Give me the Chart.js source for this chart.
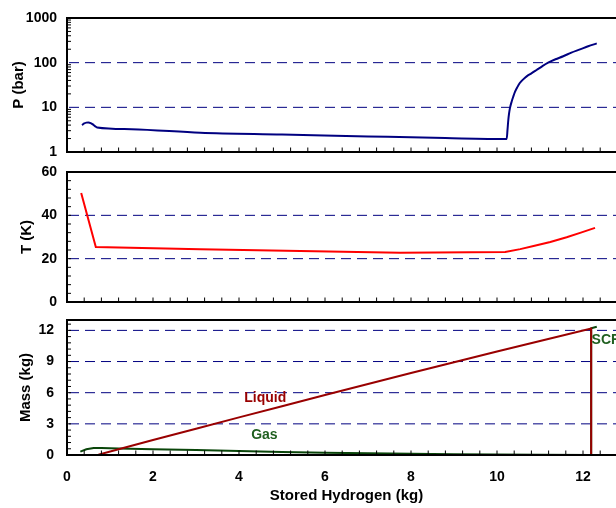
<!DOCTYPE html>
<html><head><meta charset="utf-8">
<script src="https://cdn.jsdelivr.net/npm/chart.js@4/dist/chart.umd.min.js"></script>
<style>
html,body{margin:0;padding:0;background:#fff;overflow:hidden;width:616px;height:508px;}
.panel{position:absolute;left:0;width:640px;}
</style></head><body>
<div class="panel" style="top:0;height:162px"><canvas id="c1"></canvas></div>
<div class="panel" style="top:160px;height:150px"><canvas id="c2"></canvas></div>
<div class="panel" style="top:300px;height:208px"><canvas id="c3"></canvas></div>
<script>
// ---- data ----
const storedTicks = [0, 2, 4, 6, 8, 10, 12];
const pTicks = [1, 10, 100, 1000];
const tTicks = [0, 20, 40, 60];
const massTicks = [0, 3, 6, 9, 12];

const pX = [0.35, 0.40, 0.45, 0.50, 0.55, 0.60, 0.65, 0.70, 1.5, 3.1, 5.0, 7.0, 8.8, 10.225, 10.245, 10.263, 10.28, 10.30, 10.34, 10.38, 10.42, 10.47, 10.53, 10.61, 10.69, 10.80, 10.92, 11.05, 11.19, 11.36, 11.54, 11.73, 11.93, 12.12, 12.32];
const pBar = [4.0, 4.35, 4.55, 4.6, 4.45, 4.15, 3.8, 3.55, 3.24, 2.69, 2.46, 2.23, 2.05, 1.95, 3.2, 5.2, 7.2, 9.5, 13.4, 17.6, 22.4, 28.0, 35.0, 42.3, 49.3, 57.5, 68.5, 83.0, 100, 119, 139, 168, 198, 233, 270];

const tX = [0.33, 0.67, 3.1, 7.75, 10.19, 10.54, 10.85, 11.24, 11.62, 11.95, 12.28];
const tK = [50.3, 25.4, 24.3, 22.7, 23.1, 24.4, 25.8, 27.7, 29.9, 32.0, 34.2];

const liquidX = [0.31, 0.73, 1.2, 2, 3, 4, 5, 6, 7, 8, 9, 10, 11, 12.19, 12.19, 12.32];
const liquidKg = [0, 0.03, 0.56, 1.45, 2.53, 3.62, 4.70, 5.78, 6.84, 7.89, 8.93, 9.96, 10.98, 12.18, 0, 0];

const gasX = [0.31, 0.45, 0.62, 0.8, 1.2, 2, 3, 4, 5, 6, 7, 8, 9, 10, 11, 12.19, 12.19, 12.32];
const gasKg = [0.32, 0.55, 0.68, 0.67, 0.63, 0.55, 0.47, 0.38, 0.30, 0.22, 0.16, 0.11, 0.07, 0.04, 0.02, 0.0, 12.2, 12.35];

const pts = (xs, ys) => xs.map((x, i) => ({x, y: ys[i]}));

// ---- decorations (minor tick positions, label placement) ----
const xMinor = []; for (let i = 0; i <= 32; i++) xMinor.push(i * 0.4);
const pMinor = []; [1, 10, 100].forEach(d => { for (let k = 2; k <= 9; k++) pMinor.push(d * k); });
const tMinor = []; for (let i = 0; i <= 15; i++) tMinor.push(i * 4);
const mMinor = []; for (let i = 0; i <= 21; i++) mMinor.push(+(i * 0.6).toFixed(1));

const FONT = "'Liberation Sans', Arial, Helvetica, sans-serif";

function deco(o) {
  return {
    id: 'deco',
    beforeDatasetsDraw(chart) {
      const {ctx, chartArea: a, scales: {y}} = chart;
      ctx.save();
      ctx.strokeStyle = '#000080';
      ctx.lineWidth = 1;
      ctx.setLineDash([10, 6]);
      o.dashed.forEach(v => {
        const py = y.getPixelForValue(v);
        ctx.beginPath(); ctx.moveTo(a.left + 2, py); ctx.lineTo(a.right, py); ctx.stroke();
      });
      ctx.restore();
    },
    afterDraw(chart) {
      const {ctx, chartArea: a, scales: {x, y}} = chart;
      ctx.save();
      ctx.strokeStyle = '#000';
      ctx.lineWidth = 1;
      ctx.beginPath();
      o.yMinor.forEach(v => { const py = y.getPixelForValue(v); ctx.moveTo(a.left, py); ctx.lineTo(a.left + 4, py); });
      xMinor.forEach(v => { const px = x.getPixelForValue(v); ctx.moveTo(px, a.bottom); ctx.lineTo(px, a.bottom - 4.5); });
      ctx.stroke();
      ctx.lineWidth = 2;
      ctx.strokeRect(a.left, a.top, a.right - a.left, a.bottom - a.top);
      (o.labels || []).forEach(l => {
        ctx.font = 'bold 14px ' + FONT;
        ctx.fillStyle = l.color;
        ctx.textAlign = l.align;
        ctx.textBaseline = 'middle';
        ctx.fillText(l.text, x.getPixelForValue(l.x), y.getPixelForValue(l.y));
      });
      ctx.restore();
    }
  };
}

function yAxis(extra) {
  return Object.assign({
    position: 'left',
    grid: {display: false, drawTicks: false},
    border: {display: false},
    afterFit: s => { s.width = 67; s.paddingTop = 0; s.paddingBottom = 0; },
    ticks: {color: '#000', font: {family: FONT, size: 14, weight: 'bold'}, padding: 10, callback: v => String(v)}
  }, extra);
}

function xAxis(show) {
  return {
    type: 'linear', min: 0, max: 13, display: show,
    grid: {display: false, drawTicks: false},
    border: {display: false},
    afterBuildTicks: s => { s.ticks = storedTicks.map(v => ({value: v})); },
    afterFit: s => { if (show) s.height = 53; s.paddingLeft = 0; s.paddingRight = 0; },
    ticks: {color: '#000', font: {family: FONT, size: 14, weight: 'bold'}, padding: 14, callback: v => String(v)},
    title: {display: show, text: 'Stored Hydrogen (kg)', color: '#000', font: {family: FONT, size: 15, weight: 'bold'}, padding: {top: 0, bottom: 3}}
  };
}

function baseOpts(pad, xs, ys) {
  return {
    responsive: true, maintainAspectRatio: false, animation: false,
    layout: {padding: pad},
    plugins: {legend: {display: false}, tooltip: {enabled: false}, title: {display: false}},
    elements: {point: {radius: 0}, line: {borderWidth: 2, tension: 0}},
    scales: {x: xs, y: ys}
  };
}

new Chart(document.getElementById('c1'), {
  type: 'line',
  data: {datasets: [{data: pts(pX, pBar), borderColor: '#000080', cubicInterpolationMode: 'monotone'}]},
  options: baseOpts({left: 0, top: 18, right: 14, bottom: 10}, xAxis(false), yAxis({
    type: 'logarithmic', min: 1, max: 1000,
    afterBuildTicks: s => { s.ticks = pTicks.map(v => ({value: v})); },
    title: {display: true, text: 'P (bar)', color: '#000', font: {family: FONT, size: 15, weight: 'bold'}, padding: {top: 10, bottom: 0}}
  })),
  plugins: [deco({dashed: [10, 100], yMinor: pMinor})]
});

new Chart(document.getElementById('c2'), {
  type: 'line',
  data: {datasets: [{data: pts(tX, tK), borderColor: '#ff0000'}]},
  options: baseOpts({left: 0, top: 12, right: 14, bottom: 8}, xAxis(false), yAxis({
    type: 'linear', min: 0, max: 60,
    afterBuildTicks: s => { s.ticks = tTicks.map(v => ({value: v})); },
    title: {display: true, text: 'T (K)', color: '#000', font: {family: FONT, size: 15, weight: 'bold'}, padding: {top: 18, bottom: 0}}
  })),
  plugins: [deco({dashed: [20, 40], yMinor: tMinor})]
});

new Chart(document.getElementById('c3'), {
  type: 'line',
  data: {datasets: [
    {data: pts(liquidX, liquidKg), borderColor: '#990000'},
    {data: pts(gasX, gasKg), borderColor: '#0a460a'}
  ]},
  options: baseOpts({left: 0, top: 20, right: 14, bottom: 0}, xAxis(true), yAxis({
    type: 'linear', min: 0, max: 13,
    afterBuildTicks: s => { s.ticks = massTicks.map(v => ({value: v})); },
    ticks: {color: '#000', font: {family: FONT, size: 14, weight: 'bold'}, padding: 13, callback: v => String(v)},
    title: {display: true, text: 'Mass (kg)', color: '#000', font: {family: FONT, size: 15, weight: 'bold'}, padding: {top: 17, bottom: 0}}
  })),
  plugins: [deco({dashed: [3, 6, 9, 12], yMinor: mMinor, labels: [
    {text: 'Liquid', x: 4.61, y: 5.52, color: '#990000', align: 'center'},
    {text: 'Gas', x: 4.59, y: 1.92, color: '#1f5f1f', align: 'center'},
    {text: 'SCF', x: 12.2, y: 11.08, color: '#1f5f1f', align: 'left'}
  ]})]
});
</script>
</body></html>
